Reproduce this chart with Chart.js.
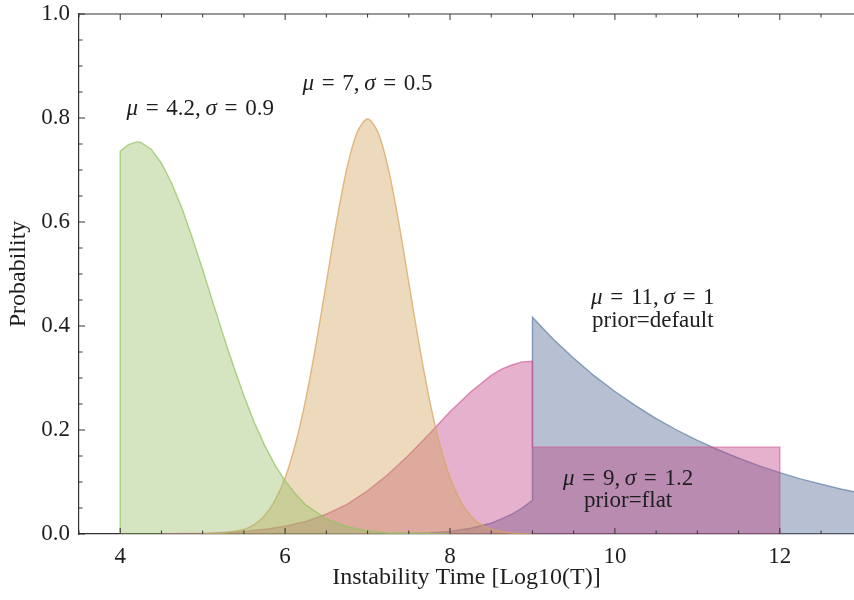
<!DOCTYPE html>
<html>
<head>
<meta charset="utf-8">
<script src="https://cdn.jsdelivr.net/npm/chart.js@4"></script>
<style>
  html, body { margin: 0; padding: 0; background: #fff; }
</style>
</head>
<body>
<canvas id="myChart" width="854" height="600"></canvas>
<script>
// values
const greenX = [4, 4, 4.1, 4.2, 4.25, 4.375, 4.5, 4.625, 4.75, 4.875, 5, 5.125, 5.25, 5.375, 5.5, 5.625, 5.75, 5.875,
                6, 6.125, 6.25, 6.5, 6.75, 7, 7.25, 7.5, 8]
const greenY = [0, 0.736, 0.749, 0.754, 0.753, 0.740, 0.713, 0.674, 0.626, 0.569, 0.508, 0.445, 0.382, 0.322, 0.266, 0.215, 0.171, 0.133,
                0.102, 0.077, 0.056, 0.029, 0.014, 0.006, 0.002, 0.001, 0]

const orangeX = [5, 5.25, 5.5, 5.625, 5.75, 5.875, 6, 6.125, 6.25, 6.375, 6.5, 6.625, 6.75, 6.875, 7,
                 7.125, 7.25, 7.375, 7.5, 7.625, 7.75, 7.875, 8, 8.125, 8.25, 8.375, 8.5, 8.75, 9]
const orangeY = [0, 0.002, 0.009, 0.018, 0.035, 0.064, 0.108, 0.173, 0.259, 0.365, 0.484, 0.602, 0.704, 0.773, 0.798,
                 0.773, 0.704, 0.602, 0.484, 0.365, 0.259, 0.173, 0.108, 0.064, 0.035, 0.018, 0.009, 0.002, 0]

const pinkX = [4.5, 4.75, 5, 5.25, 5.5, 5.75, 6, 6.25, 6.5, 6.75, 7, 7.25, 7.5, 7.75, 8, 8.25, 8.5, 8.625, 8.75, 8.875, 9, 9, 12, 12]
const pinkY = [0, 0.001, 0.001, 0.003, 0.005, 0.009, 0.015, 0.024, 0.038, 0.057, 0.083, 0.115, 0.152, 0.193, 0.235, 0.273, 0.305, 0.317, 0.325, 0.331, 0.332, 0.167, 0.167, 0]

const blueX = [6.5, 7, 7.5, 7.75, 8, 8.25, 8.5, 8.625, 8.75, 8.875, 9, 9, 9.25, 9.5, 9.75, 10, 10.25, 10.5,
               10.75, 11, 11.25, 11.5, 11.75, 12, 12.25, 12.5, 12.75, 13]
const blueY = [0, 0.0002, 0.001, 0.002, 0.005, 0.011, 0.021, 0.029, 0.038, 0.050, 0.065, 0.417, 0.375, 0.338, 0.304, 0.274, 0.247, 0.222,
               0.200, 0.180, 0.162, 0.146, 0.131, 0.118, 0.106, 0.096, 0.086, 0.078]

// text labels inside the plot (data coordinates); flag 1 = math italic
const eq = '\u2004=\u2004'
const noteLines = [
  [['μ', 1], [eq + '4.2,\u2009', 0], ['σ', 1], [eq + '0.9', 0]],
  [['μ', 1], [eq + '7,\u2009', 0], ['σ', 1], [eq + '0.5', 0]],
  [['μ', 1], [eq + '11,\u2009', 0], ['σ', 1], [eq + '1', 0]],
  [['prior=default', 0]],
  [['μ', 1], [eq + '9,\u2009', 0], ['σ', 1], [eq + '1.2', 0]],
  [['prior=flat', 0]]
]
const noteX = [4.97, 7.0, 10.46, 10.46, 10.16, 10.16]
const noteY = [0.817, 0.866, 0.454, 0.410, 0.106, 0.063]

const serif = '"Liberation Serif", "DejaVu Serif", serif'
const ink = '#1e1e1e'

const toPts = (xs, ys) => xs.map((x, i) => ({ x: x, y: ys[i] }))

const curve = (pts, line, fill, tension) => ({
  data: pts,
  borderColor: line,
  backgroundColor: fill,
  borderWidth: 1.4,
  pointRadius: 0,
  fill: 'origin',
  tension: tension
})

// inward ticks on left, bottom and top + top spine, and the text notes
const framePlugin = {
  id: 'frame',
  afterDraw(chart) {
    const ctx = chart.ctx
    const a = chart.chartArea
    const xs = chart.scales.x
    const ys = chart.scales.y
    ctx.save()
    ctx.strokeStyle = '#333'
    ctx.lineWidth = 1.2
    ctx.beginPath()
    ctx.moveTo(a.left, a.top)
    ctx.lineTo(a.right, a.top)
    ctx.stroke()
    ctx.lineWidth = 1
    for (let v = 3.5; v <= 12.9; v += 0.5) {
      const px = xs.getPixelForValue(v)
      const len = Math.abs(v % 2) < 1e-6 ? 6 : 3.5
      ctx.beginPath()
      ctx.moveTo(px, a.bottom); ctx.lineTo(px, a.bottom - len)
      ctx.moveTo(px, a.top); ctx.lineTo(px, a.top + len)
      ctx.stroke()
    }
    for (let k = 0; k <= 20; k++) {
      const py = ys.getPixelForValue(k * 0.05)
      const len = k % 4 === 0 ? 6 : 3.5
      ctx.beginPath()
      ctx.moveTo(a.left, py); ctx.lineTo(a.left + len, py)
      ctx.stroke()
    }
    ctx.fillStyle = ink
    ctx.textBaseline = 'middle'
    ctx.textAlign = 'left'
    noteLines.forEach((parts, i) => {
      const fonts = parts.map(p => (p[1] ? 'italic ' : '') + '23px ' + serif)
      let w = 0
      parts.forEach((p, j) => { ctx.font = fonts[j]; w += ctx.measureText(p[0]).width })
      let cx = xs.getPixelForValue(noteX[i]) - w / 2
      const cy = ys.getPixelForValue(noteY[i])
      parts.forEach((p, j) => {
        ctx.font = fonts[j]
        ctx.fillText(p[0], cx, cy)
        cx += ctx.measureText(p[0]).width
      })
    })
    ctx.restore()
  }
}

const ctx = document.getElementById('myChart').getContext('2d')
const myChart = new Chart(ctx, {
  type: 'line',
  data: {
    datasets: [
      curve(toPts(greenX, greenY), 'rgba(150,195,100,0.75)', 'rgba(150,190,100,0.4)', 0),
      curve(toPts(orangeX, orangeY), 'rgba(215,165,95,0.75)', 'rgba(210,160,87,0.4)', 0.3),
      curve(toPts(pinkX, pinkY), 'rgba(200,80,140,0.6)', 'rgba(190,60,127,0.4)', 0),
      curve(toPts(blueX, blueY), 'rgba(95,125,165,0.7)', 'rgba(110,130,165,0.5)', 0)
    ]
  },
  options: {
    responsive: false,
    animation: false,
    layout: { padding: { top: 14, right: 0, left: 0, bottom: 0 } },
    plugins: { legend: { display: false }, tooltip: { enabled: false } },
    scales: {
      x: {
        type: 'linear',
        min: 3.5,
        max: 12.9,
        grid: { drawOnChartArea: false, drawTicks: false, color: '#333' },
        border: { color: '#333', width: 1.2 },
        ticks: { stepSize: 2, includeBounds: false, padding: 9, color: ink, font: { family: serif, size: 23 } },
        title: { display: true, text: 'Instability Time [Log10(T)]', color: ink, font: { family: serif, size: 24 }, padding: { top: 0, bottom: 8 } },
        afterFit: s => { s.height = 66; s.paddingRight = 0 }
      },
      y: {
        min: 0,
        max: 1,
        grid: { drawOnChartArea: false, drawTicks: false, color: '#333' },
        border: { color: '#333', width: 1.2 },
        ticks: { stepSize: 0.2, padding: 9, color: ink, font: { family: serif, size: 23 }, callback: v => v.toFixed(1) },
        title: { display: true, text: 'Probability', color: ink, font: { family: serif, size: 24 }, padding: { top: 4, bottom: 0 } },
        afterFit: s => { s.width = 79; s.paddingTop = 0; s.paddingBottom = 0 }
      }
    }
  },
  plugins: [framePlugin]
})
</script>
</body>
</html>
